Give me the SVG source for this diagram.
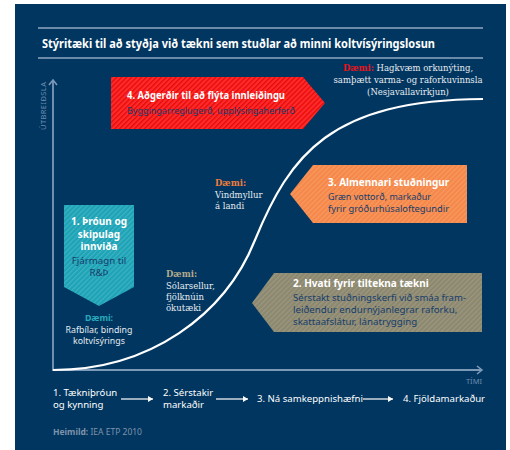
<svg xmlns="http://www.w3.org/2000/svg" width="510" height="450" viewBox="0 0 510 450">
<defs>
<pattern id="pRed" patternUnits="userSpaceOnUse" width="3.5" height="3.5" patternTransform="rotate(45)">
<rect width="3.5" height="3.5" fill="#ff2a2a"/><rect width="1.3" height="3.5" fill="#e40a0a"/></pattern>
<pattern id="pTeal" patternUnits="userSpaceOnUse" width="3.5" height="3.5" patternTransform="rotate(45)">
<rect width="3.5" height="3.5" fill="#1ea2b5"/><rect width="1.3" height="3.5" fill="#3ab2c3"/></pattern>
<pattern id="pOrange" patternUnits="userSpaceOnUse" width="3.5" height="3.5" patternTransform="rotate(45)">
<rect width="3.5" height="3.5" fill="#f5874a"/><rect width="1.3" height="3.5" fill="#f7995f"/></pattern>
<pattern id="pGrey" patternUnits="userSpaceOnUse" width="3.5" height="3.5" patternTransform="rotate(45)">
<rect width="3.5" height="3.5" fill="#8c8870"/><rect width="1.3" height="3.5" fill="#9a967f"/></pattern>
<marker id="axisHead" markerWidth="10" markerHeight="10" refX="6" refY="5" orient="auto" markerUnits="userSpaceOnUse">
<path d="M1,1 L6,5 L1,9" fill="none" stroke="#7d99b8" stroke-width="1.6"/></marker>
<marker id="flowHead" markerWidth="6" markerHeight="6" refX="5" refY="3" orient="auto" markerUnits="userSpaceOnUse">
<path d="M0,0 L5,3 L0,6 Z" fill="#ffffff"/></marker>
</defs>
<style>
.title{font-family:"Noto Sans","Open Sans",sans-serif;font-weight:bold;font-size:12px;fill:#ffffff}
.hd{font-family:"Noto Sans","Open Sans",sans-serif;font-weight:bold;font-size:10px;fill:#ffffff}
.sub{font-family:"Noto Sans","Open Sans",sans-serif;font-size:9.7px;fill:#163d6b}
.ex{font-family:"DejaVu Serif","Liberation Serif",serif;font-size:8.5px;fill:#e6ebf1}
.exs{font-family:"Noto Sans","Open Sans",sans-serif;font-size:8.8px;fill:#e6ebf1}
.dm{font-weight:bold}
.flow{font-family:"Noto Sans","Open Sans",sans-serif;font-size:9.6px;fill:#ffffff}
.axl{font-family:"Noto Sans","Open Sans",sans-serif;font-size:7.5px;fill:#6f8db0}
.src{font-family:"Noto Sans","Open Sans",sans-serif;font-size:8.5px;fill:#7f93ab}
.rule{stroke:#8fa6c1;stroke-width:1.5}
.axis{stroke:#7d99b8;stroke-width:1.8;fill:none}
.fl{stroke:#ffffff;stroke-width:1.2}
</style>
<rect x="15" y="4" width="491" height="446" fill="#003660"/>
<line class="rule" x1="38" y1="28" x2="483" y2="28"/>
<line class="rule" x1="38" y1="58" x2="483" y2="58"/>
<text class="title" x="42" y="48" textLength="393" lengthAdjust="spacingAndGlyphs">Stýritæki til að styðja við tækni sem stuðlar að minni koltvísýringslosun</text>

<g id="axes">
<line class="axis" x1="53" y1="371" x2="53" y2="80" marker-end="url(#axisHead)"/>
<line class="axis" x1="52" y1="370" x2="482" y2="370" marker-end="url(#axisHead)"/>
<text class="axl" transform="translate(46,130) rotate(-90)" x="0" y="0" textLength="48">ÚTBREIÐSLA</text>
<text class="axl" x="482" y="384" text-anchor="end">TÍMI</text>
</g>

<g id="curve">
<path d="M53,370 C150,370 225,315 255,240 C290,155 330,100 483,99" fill="none" stroke="#ffffff" stroke-width="2.2"/>
</g>

<g id="node4">
<polygon points="111,77 303,77 325,103 303,129 111,129" fill="url(#pRed)"/>
<text class="hd" x="127" y="99" font-size="10.5" textLength="158" lengthAdjust="spacingAndGlyphs">4. Aðgerðir til að flýta innleiðingu</text>
<text class="sub" x="127" y="114" textLength="168" lengthAdjust="spacingAndGlyphs">Byggingarreglugerð, upplýsingaherferð</text>
</g>

<g id="node3">
<polygon points="290,194 313,165 467,165 467,223 313,223" fill="url(#pOrange)"/>
<text class="hd" x="328" y="186">3. Almennari stuðningur</text>
<text class="sub" x="328" y="200" textLength="103" lengthAdjust="spacingAndGlyphs">Græn vottorð, markaður</text>
<text class="sub" x="328" y="212" textLength="121" lengthAdjust="spacingAndGlyphs">fyrir gróðurhúsaloftegundir</text>
</g>

<g id="node2">
<polygon points="252,303 274,273 482,273 482,332 274,332" fill="url(#pGrey)"/>
<text class="hd" x="293" y="287">2. Hvati fyrir tiltekna tækni</text>
<text class="sub" x="293" y="301" textLength="173" lengthAdjust="spacingAndGlyphs">Sérstakt stuðningskerfi við smáa fram-</text>
<text class="sub" x="293" y="313">leiðendur endurnýjanlegrar raforku,</text>
<text class="sub" x="293" y="325">skattaafslátur, lánatrygging</text>
</g>

<g id="node1">
<polygon points="64,205 134,205 134,287 99,306 64,287" fill="url(#pTeal)"/>
<text class="hd" x="99" y="225" text-anchor="middle" font-size="9.6">1. Þróun og</text>
<text class="hd" x="99" y="237.5" text-anchor="middle" font-size="9.6">skipulag</text>
<text class="hd" x="99" y="250" text-anchor="middle" font-size="9.6">innviða</text>
<text class="sub" x="99" y="263.5" text-anchor="middle" font-size="9.6">Fjármagn til</text>
<text class="sub" x="99" y="276" text-anchor="middle" font-size="9.6">R&amp;Þ</text>
</g>

<g id="example4">
<text class="ex" x="408" y="71" text-anchor="middle"><tspan class="dm" fill="#e8141c">Dæmi:</tspan> Hagkvæm orkunýting,</text>
<text class="ex" x="408" y="83" text-anchor="middle">samþætt varma- og raforkuvinnsla</text>
<text class="ex" x="408" y="95" text-anchor="middle">(Nesjavallavirkjun)</text>
</g>

<g id="example3">
<text class="ex" x="215" y="186"><tspan class="dm" fill="#ef7d3c">Dæmi:</tspan></text>
<text class="ex" x="215" y="198">Vindmyllur</text>
<text class="ex" x="215" y="209">á landi</text>
</g>

<g id="example2">
<text class="ex" x="166" y="277"><tspan class="dm" fill="#b3aa8c">Dæmi:</tspan></text>
<text class="ex" x="166" y="289">Sólarsellur,</text>
<text class="ex" x="166" y="300">fjölknúin</text>
<text class="ex" x="166" y="311">ökutæki</text>
</g>

<g id="example1">
<text class="exs" x="99" y="321" text-anchor="middle"><tspan class="dm" fill="#2aa9bb">Dæmi:</tspan></text>
<text class="exs" x="99" y="332.5" text-anchor="middle">Rafbílar, binding</text>
<text class="exs" x="99" y="344" text-anchor="middle">koltvísýrings</text>
</g>

<g id="stages">
<text class="flow" x="53" y="396">1. Tækniþróun</text>
<text class="flow" x="53" y="408">og kynning</text>
<text class="flow" x="163" y="396">2. Sérstakir</text>
<text class="flow" x="163" y="408">markaðir</text>
<text class="flow" x="257" y="402">3. Ná samkeppnishæfni</text>
<text class="flow" x="403" y="402">4. Fjöldamarkaður</text>
</g>

<g id="connectors">
<line class="fl" x1="121" y1="399" x2="153" y2="399" marker-end="url(#flowHead)"/>
<line class="fl" x1="216" y1="399" x2="248" y2="399" marker-end="url(#flowHead)"/>
<line class="fl" x1="363" y1="399" x2="393" y2="399" marker-end="url(#flowHead)"/>
</g>

<text class="src" x="53" y="435"><tspan class="dm">Heimild:</tspan> IEA ETP 2010</text>
</svg>
